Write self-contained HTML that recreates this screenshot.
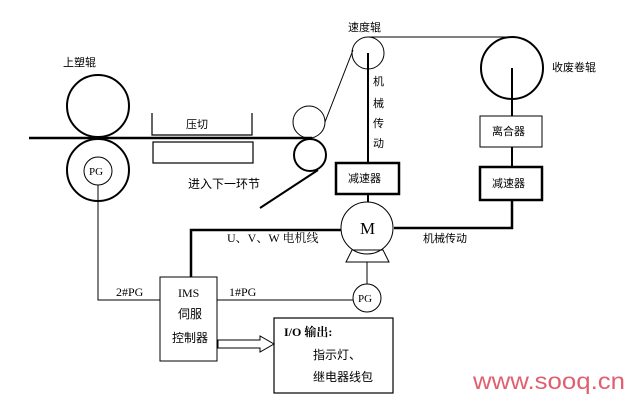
<!DOCTYPE html>
<html><head><meta charset="utf-8"><style>
html,body{margin:0;padding:0;background:#fff;overflow:hidden;}
svg{display:block;}
text{font-family:"Liberation Serif","Noto Serif CJK SC",serif;font-size:12px;fill:#000;}
.c{font-family:"Liberation Sans","Noto Sans CJK SC",sans-serif;font-size:11px;}
</style></head><body>
<svg width="632" height="401" viewBox="0 0 632 401" xmlns="http://www.w3.org/2000/svg">
<g fill="none" stroke="#000">
<circle cx="98" cy="106" r="31" stroke-width="2"/>
<circle cx="98" cy="170" r="31" stroke-width="2"/>
<circle cx="98" cy="171" r="14" stroke-width="1"/>
<line x1="29" y1="138" x2="312" y2="138" stroke-width="2.5"/>
<polyline points="152,113 152,135 252,135 252,113" stroke-width="1.2"/>
<rect x="153" y="142" width="100" height="21" stroke-width="1.2"/>
<circle cx="309" cy="122" r="16" stroke-width="1"/>
<circle cx="310" cy="155" r="16" stroke-width="2"/>
<line x1="260" y1="208" x2="318" y2="170" stroke-width="2"/>
<line x1="325" y1="122" x2="353" y2="50" stroke-width="1"/>
<circle cx="368" cy="53" r="16" stroke-width="1"/>
<line x1="368" y1="37" x2="512" y2="37" stroke-width="1"/>
<line x1="368" y1="53" x2="368" y2="163" stroke-width="2"/>
<rect x="336" y="163" width="63" height="31" stroke-width="2.5"/>
<line x1="368" y1="194" x2="368" y2="202" stroke-width="2"/>
<circle cx="512" cy="68" r="31" stroke-width="2"/>
<line x1="512" y1="68" x2="512" y2="116" stroke-width="2"/>
<rect x="480" y="116" width="62" height="31" stroke-width="1"/>
<line x1="512" y1="147" x2="512" y2="167" stroke-width="2"/>
<rect x="480" y="167" width="62" height="33" stroke-width="2.5"/>
<polyline points="512,200 512,228 394,228" stroke-width="2.5"/>
<circle cx="367" cy="228" r="26" stroke-width="1"/>
<polygon points="352,250 383,250 389,262 346,262" stroke-width="1"/>
<line x1="367" y1="262" x2="367" y2="284" stroke-width="1"/>
<circle cx="367" cy="298" r="14" stroke-width="1"/>
<polyline points="341,230 191,230 191,277" stroke-width="2.5"/>
<rect x="160" y="277" width="57" height="84" stroke-width="1"/>
<polyline points="98,185 98,300 160,300" stroke-width="1"/>
<line x1="217" y1="300" x2="353" y2="300" stroke-width="1"/>
<polygon points="218,340 260,340 260,336 274,344 260,352 260,348 218,348" stroke-width="1"/>
<rect x="274" y="318" width="119" height="75" stroke-width="1.2"/>
</g>
<text x="63" y="66" class="c">上塑辊</text>
<text x="186" y="128" class="c">压切</text>
<text x="188" y="188" class="c" style="font-size:12px">进入下一环节</text>
<text x="348" y="31" class="c">速度辊</text>
<text x="552" y="71" class="c">收废卷辊</text>
<text x="373" y="85" class="c">机</text>
<text x="373" y="107" class="c">械</text>
<text x="373" y="127" class="c">传</text>
<text x="373" y="147" class="c">动</text>
<text x="348" y="182" class="c">减速器</text>
<text x="492" y="135" class="c">离合器</text>
<text x="492" y="187" class="c">减速器</text>
<text x="423" y="242" class="c">机械传动</text>
<text x="227" y="242" style="font-size:12px">U、V、W 电机线</text>
<text x="360" y="234" style="font-size:17px">M</text>
<text x="89" y="175" style="font-size:11px">PG</text>
<text x="358" y="302" style="font-size:11px">PG</text>
<text x="116" y="296" style="font-size:12px">2#PG</text>
<text x="229" y="296" style="font-size:12px">1#PG</text>
<text x="178" y="297" style="font-size:12px">IMS</text>
<text x="178" y="318" class="c" style="font-size:12px">伺服</text>
<text x="172" y="342" class="c" style="font-size:12px">控制器</text>
<text x="284" y="336" style="font-size:12px;font-weight:bold">I/O 输出:</text>
<text x="313" y="359" class="c" style="font-size:12px">指示灯、</text>
<text x="313" y="381" class="c" style="font-size:12px">继电器线包</text>
<text x="473" y="389" textLength="152" lengthAdjust="spacingAndGlyphs" style="font-family:'Liberation Sans',sans-serif;font-size:23px;fill:#e0606f">www.sooq.cn</text>
</svg>
</body></html>
